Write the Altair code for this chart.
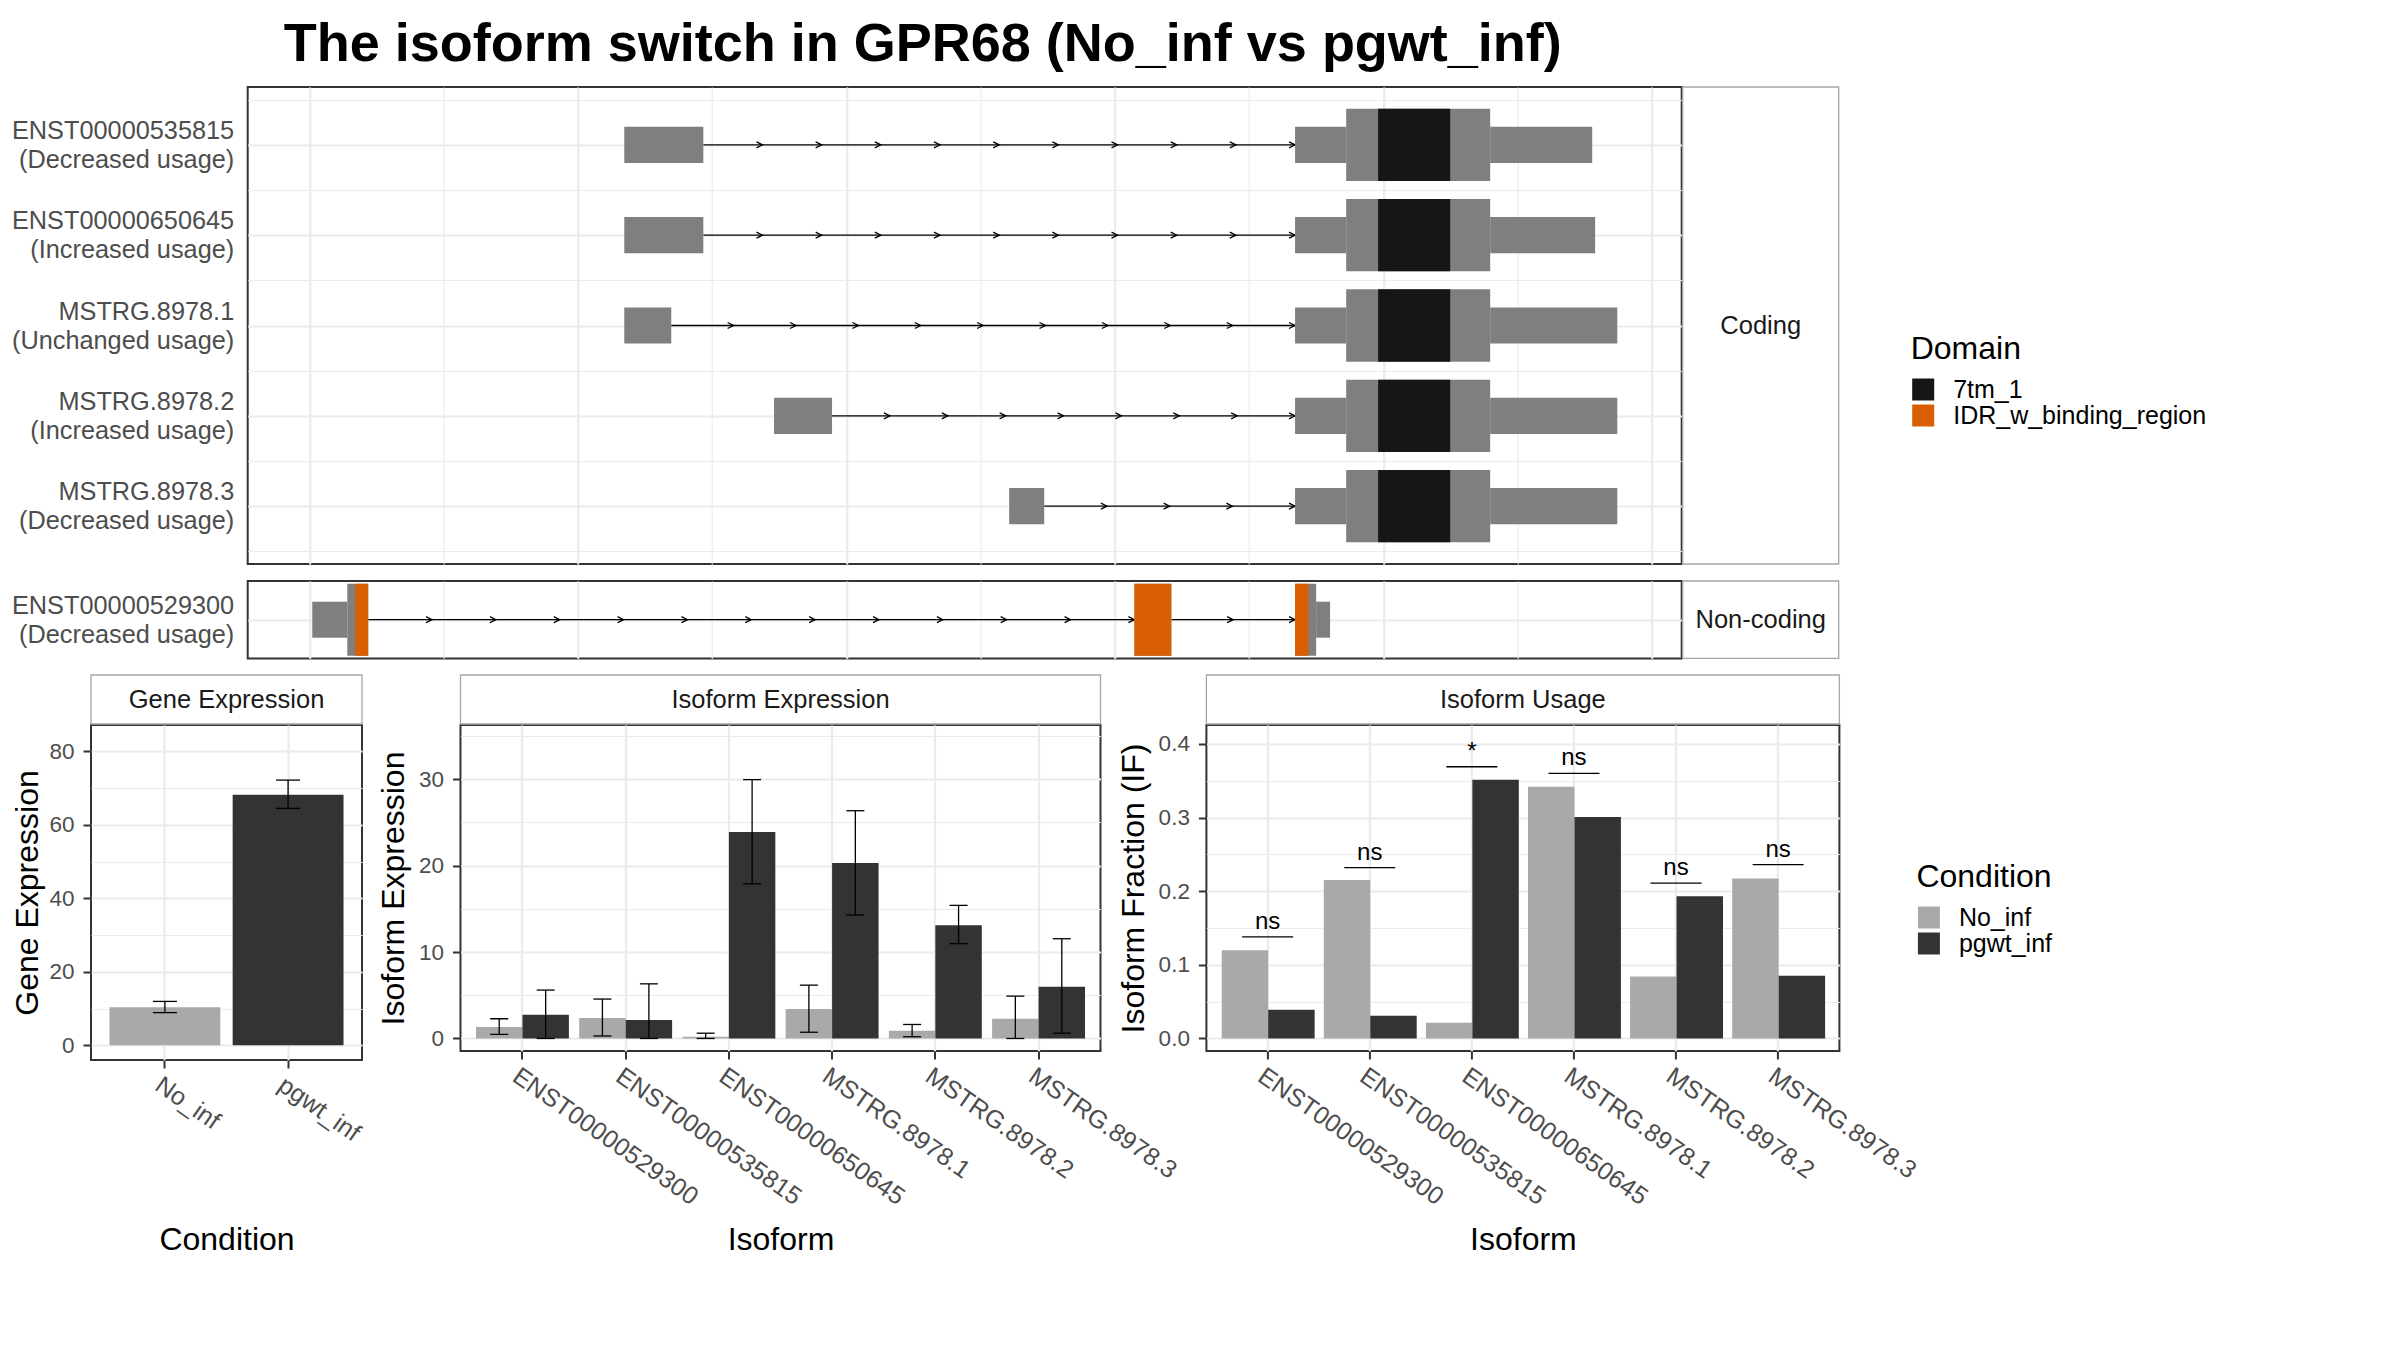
import json
import altair as alt
import pandas as pd

FONT = "Liberation Sans"
GRID = "#EBEBEB"
BORDER = "#333333"
STRIP_BORDER = "#A6A6A6"
TICK_LABEL = "#4D4D4D"
EXON_GRAY = "#7F7F7F"

# ---------------- transcript structures (rescaled genomic coordinate) ----------------
coding_tx = ["ENST00000535815", "ENST00000650645", "MSTRG.8978.1", "MSTRG.8978.2", "MSTRG.8978.3"]
coding_note = ["(Decreased usage)", "(Increased usage)", "(Unchanged usage)", "(Increased usage)", "(Decreased usage)"]

cod_row = [1, 1, 1, 1, 2, 2, 2, 2, 3, 3, 3, 3, 4, 4, 4, 4, 5, 5, 5, 5]
cod_start = [2.345, 7.343, 7.724, 8.797,
             2.345, 7.343, 7.724, 8.797,
             2.345, 7.343, 7.724, 8.797,
             3.461, 7.343, 7.724, 8.797,
             5.213, 7.343, 7.724, 8.797]
cod_end = [2.934, 7.724, 8.797, 9.557,
           2.934, 7.724, 8.797, 9.579,
           2.695, 7.724, 8.797, 9.744,
           3.893, 7.724, 8.797, 9.744,
           5.474, 7.724, 8.797, 9.744]
cod_kind = ["utr", "utr", "cds", "utr",
            "utr", "utr", "cds", "utr",
            "utr", "utr", "cds", "utr",
            "utr", "utr", "cds", "utr",
            "utr", "utr", "cds", "utr"]

cod_dom_row = [1, 2, 3, 4, 5]
cod_dom_start = [7.962, 7.962, 7.962, 7.962, 7.962]
cod_dom_end = [8.499, 8.499, 8.499, 8.499, 8.499]
cod_dom_name = ["7tm_1", "7tm_1", "7tm_1", "7tm_1", "7tm_1"]

cod_intron_row = [1, 2, 3, 4, 5]
cod_intron_start = [2.934, 2.934, 2.695, 3.893, 5.474]
cod_intron_end = [7.343, 7.343, 7.343, 7.343, 7.343]
cod_intron_arrows = [10, 10, 10, 8, 4]

nc_tx = ["ENST00000529300"]
nc_note = ["(Decreased usage)"]
nc_row = [1, 1, 1, 1, 1]
nc_start = [0.020, 0.281, 6.146, 7.343, 7.500]
nc_end = [0.281, 0.437, 6.421, 7.500, 7.604]
nc_kind = ["utr", "cds", "cds", "cds", "utr"]
nc_dom_row = [1, 1, 1]
nc_dom_start = [0.340, 6.146, 7.343]
nc_dom_end = [0.437, 6.421, 7.443]
nc_dom_name = ["IDR_w_binding_region", "IDR_w_binding_region", "IDR_w_binding_region"]
nc_intron_row = [1, 1]
nc_intron_start = [0.437, 6.421]
nc_intron_end = [6.146, 7.343]
nc_intron_arrows = [12, 2]

domain_names = ["7tm_1", "IDR_w_binding_region"]
domain_colors = ["#161616", "#D95F02"]

# ---------------- expression data ----------------
conditions = ["No_inf", "pgwt_inf"]
cond_colors = ["#A9A9A9", "#333333"]

gene_mean = [10.35, 68.2]
gene_lo = [8.9, 64.5]
gene_hi = [11.95, 72.2]

isoforms = ["ENST00000529300", "ENST00000535815", "ENST00000650645",
            "MSTRG.8978.1", "MSTRG.8978.2", "MSTRG.8978.3"]
iso_mean_no = [1.33, 2.37, 0.20, 3.41, 0.90, 2.28]
iso_lo_no = [0.47, 0.29, 0.0, 0.72, 0.20, 0.0]
iso_hi_no = [2.28, 4.56, 0.61, 6.17, 1.62, 4.90]
iso_mean_pg = [2.75, 2.14, 23.9, 20.3, 13.1, 5.98]
iso_lo_pg = [0.0, 0.0, 17.9, 14.29, 10.97, 0.61]
iso_hi_pg = [5.60, 6.32, 29.95, 26.35, 15.4, 11.54]

if_no = [0.1198, 0.2151, 0.0212, 0.342, 0.0842, 0.2172]
if_pg = [0.039, 0.0307, 0.3515, 0.3008, 0.1933, 0.0853]
sig_label = ["ns", "ns", "*", "ns", "ns", "ns"]
sig_y = [0.138, 0.232, 0.369, 0.360, 0.211, 0.236]

# ---------------- helpers ----------------
XDOM = [-0.461, 10.224]
ARROW = "M -2 -1 L 0 0 L -2 1"


def sx(field):
    return alt.X(f"{field}:Q",
                 scale=alt.Scale(domain=XDOM, nice=False, zero=False),
                 axis=alt.Axis(values=list(range(11)), labels=False, ticks=False, domain=False,
                               title=None, grid=True, gridColor=GRID,
                               gridWidth={"condition": {"test": "datum.value % 2 === 0", "value": 2.2},
                                          "value": 1.1}))


def make_sy(ydom, yvals, names, notes):
    lab = json.dumps([[n, u] for n, u in zip(names, notes)])

    def sy(field):
        return alt.Y(f"{field}:Q",
                     scale=alt.Scale(domain=ydom, nice=False, zero=False, reverse=True),
                     axis=alt.Axis(values=yvals,
                                   labelExpr=f"datum.value % 1 === 0 ? {lab}[datum.value - 1] : ''",
                                   ticks=False, domain=False, title=None,
                                   labelFontSize=25.3, labelColor=TICK_LABEL, labelPadding=14,
                                   labelLineHeight=29, labelLimit=400, labelAlign="right",
                                   labelBaseline="middle", labelOffset=-14.5, labelOverlap=False,
                                   minExtent=238,
                                   grid=True, gridColor=GRID,
                                   gridWidth={"condition": {"test": "datum.value % 1 === 0", "value": 2.2},
                                              "value": 1.1}))
    return sy


def structure_panel(W, H, ydom, yvals, names, notes, seg_df, dom_df, intr_df, strip_text, legend):
    sy = make_sy(ydom, yvals, names, notes)
    introns = alt.Chart(intr_df).mark_rule(color="black", strokeWidth=1.3).encode(
        x=sx("start"), x2="end:Q", y=sy("row"))
    arrows = (alt.Chart(intr_df)
              .transform_calculate(k="sequence(1, datum.n + 1)")
              .transform_flatten(["k"])
              .transform_calculate(ax="datum.start + (datum.end - datum.start) * datum.k / datum.n")
              .mark_point(shape=ARROW, size=36, filled=False, color="black", strokeWidth=1.3, opacity=1)
              .encode(x=sx("ax"), y=sy("row")))
    exons = (alt.Chart(seg_df)
             .transform_calculate(y0="datum.row - (datum.kind === 'cds' ? 0.4 : 0.2)",
                                  y1="datum.row + (datum.kind === 'cds' ? 0.4 : 0.2)")
             .mark_rect(color=EXON_GRAY)
             .encode(x=sx("start"), x2="end:Q", y=sy("y0"), y2="y1:Q"))
    doms = (alt.Chart(dom_df)
            .transform_calculate(y0="datum.row - 0.4", y1="datum.row + 0.4")
            .mark_rect()
            .encode(x=sx("start"), x2="end:Q", y=sy("y0"), y2="y1:Q",
                    color=alt.Color("Domain:N",
                                    scale=alt.Scale(domain=domain_names, range=domain_colors),
                                    legend=legend)))
    strip_df = pd.DataFrame({"label": [strip_text]})
    strip_box = alt.Chart(strip_df).mark_rect(fill="white", stroke=STRIP_BORDER, strokeWidth=1.3).encode(
        x=alt.value(W + 1), x2=alt.value(W + 157), y=alt.value(0), y2=alt.value(H))
    strip_txt = alt.Chart(strip_df).mark_text(fontSize=25.5, color="#1A1A1A").encode(
        x=alt.value(W + 79), y=alt.value(H / 2), text="label:N")
    return alt.layer(introns, arrows, exons, doms, strip_box, strip_txt).properties(width=W, height=H)


cod_seg = pd.DataFrame({"row": cod_row, "start": cod_start, "end": cod_end, "kind": cod_kind})
cod_dom = pd.DataFrame({"row": cod_dom_row, "start": cod_dom_start, "end": cod_dom_end, "Domain": cod_dom_name})
cod_intr = pd.DataFrame({"row": cod_intron_row, "start": cod_intron_start, "end": cod_intron_end,
                         "n": cod_intron_arrows})
nc_seg = pd.DataFrame({"row": nc_row, "start": nc_start, "end": nc_end, "kind": nc_kind})
nc_dom = pd.DataFrame({"row": nc_dom_row, "start": nc_dom_start, "end": nc_dom_end, "Domain": nc_dom_name})
nc_intr = pd.DataFrame({"row": nc_intron_row, "start": nc_intron_start, "end": nc_intron_end,
                        "n": nc_intron_arrows})

domain_legend = alt.Legend(orient="none", legendX=1663, legendY=247, title="Domain",
                           titleFontSize=32, titleFontWeight="normal", titleColor="black",
                           labelFontSize=25, labelColor="black", labelLimit=500, symbolType="square",
                           symbolSize=484, symbolStrokeWidth=0, rowPadding=0, labelOffset=17.5,
                           titlePadding=11, padding=0)

coding = structure_panel(1434, 477, [0.36, 5.64], [0.5, 1, 1.5, 2, 2.5, 3, 3.5, 4, 4.5, 5, 5.5],
                         coding_tx, coding_note, cod_seg, cod_dom, cod_intr, "Coding", domain_legend)
noncoding = structure_panel(1434, 77.4, [0.57, 1.43], [1], nc_tx, nc_note,
                            nc_seg, nc_dom, nc_intr, "Non-coding", None)

top_block = alt.vconcat(coding, noncoding, spacing=17, bounds="flush").resolve_scale(color="independent")

# invisible spacer that lets the structure panels start further right than the expression panels
spacer = (alt.Chart(pd.DataFrame({"a": [0]}))
          .mark_point(opacity=0)
          .encode(x=alt.value(0), y=alt.value(0))
          .properties(width=1, height=1, view=alt.ViewBackground(strokeOpacity=0, fillOpacity=0)))
top_row = alt.hconcat(spacer, top_block, spacing=155.7, bounds="flush")


# ---------------- bottom panels ----------------
def bx(field, title, sort, extent):
    return alt.X(f"{field}:N", sort=sort, title=title,
                 scale=alt.Scale(paddingInner=0.1, paddingOuter=0.15),
                 axis=alt.Axis(labelAngle=35, labelAlign="left", labelBaseline="top", labelFontSize=25,
                               labelColor=TICK_LABEL, labelLimit=400, labelOverlap=False, labelPadding=4,
                               tickSize=8, tickWidth=2, tickColor=BORDER, domain=False, grid=True,
                               gridColor=GRID, gridWidth=2.2, bandPosition=0.5, titleFontSize=32,
                               titleFontWeight="normal", titleColor="black", titlePadding=10,
                               minExtent=extent, maxExtent=extent))


def by(field, dom, vals, major, title, fmt=None, tpad=8):
    kw = dict(values=vals, title=title, labelExpr=f"({major}) ? datum.label : ''",
              tickOpacity={"condition": {"test": major, "value": 1}, "value": 0},
              gridWidth={"condition": {"test": major, "value": 2.2}, "value": 1.1},
              gridColor=GRID, tickSize=8, tickWidth=2, tickColor=BORDER, domain=False,
              labelFontSize=22.5, labelColor=TICK_LABEL, labelPadding=9, labelOverlap=False,
              titleFontSize=32, titleFontWeight="normal", titleColor="black", titlePadding=tpad)
    if fmt:
        kw["format"] = fmt
    return alt.Y(f"{field}:Q", scale=alt.Scale(domain=dom, nice=False, zero=False), axis=alt.Axis(**kw))


def strip_layers(W, text):
    df = pd.DataFrame({"label": [text]})
    box = alt.Chart(df).mark_rect(fill="white", stroke=STRIP_BORDER, strokeWidth=1.3).encode(
        x=alt.value(0), x2=alt.value(W), y=alt.value(-50), y2=alt.value(-1))
    txt = alt.Chart(df).mark_text(fontSize=25.5, color="#1A1A1A").encode(
        x=alt.value(W / 2), y=alt.value(-25.5), text="label:N")
    return [box, txt]


cond_scale = alt.Scale(domain=conditions, range=cond_colors)

# Gene expression
gene_df = pd.DataFrame({"Condition": conditions, "mean": gene_mean, "lo": gene_lo, "hi": gene_hi})
GW, GH = 271, 335
gdom = [-4.0, 87.2]
gvals = [0, 10, 20, 30, 40, 50, 60, 70, 80]
gmaj = "datum.value % 20 === 0"


def GX():
    return bx("Condition", "Condition", conditions, 154)


def GY(f):
    return by(f, gdom, gvals, gmaj, "Gene Expression", tpad=4)


g_bars = alt.Chart(gene_df).mark_bar().encode(
    x=GX(), y=GY("mean"), y2=alt.datum(0),
    color=alt.Color("Condition:N", scale=cond_scale, legend=None))
g_err = alt.Chart(gene_df).mark_rule(color="black", strokeWidth=1.3).encode(x=GX(), y=GY("lo"), y2="hi:Q")
g_cap1 = alt.Chart(gene_df).mark_tick(color="black", thickness=1.3, size=24, orient="horizontal",
                                      opacity=1).encode(x=GX(), y=GY("lo"))
g_cap2 = alt.Chart(gene_df).mark_tick(color="black", thickness=1.3, size=24, orient="horizontal",
                                      opacity=1).encode(x=GX(), y=GY("hi"))
gene_chart = alt.layer(g_bars, g_err, g_cap1, g_cap2, *strip_layers(GW, "Gene Expression")).properties(
    width=GW, height=GH)

# Isoform expression
iso_df = pd.DataFrame({
    "Isoform": isoforms + isoforms,
    "Condition": ["No_inf"] * 6 + ["pgwt_inf"] * 6,
    "mean": iso_mean_no + iso_mean_pg,
    "lo": iso_lo_no + iso_lo_pg,
    "hi": iso_hi_no + iso_hi_pg,
})
IW, IH = 640, 326
idom = [-1.45, 36.27]
ivals = [0, 5, 10, 15, 20, 25, 30, 35]
imaj = "datum.value % 10 === 0"


def IX():
    return bx("Isoform", "Isoform", isoforms, 163)


def IY(f):
    return by(f, idom, ivals, imaj, "Isoform Expression")


def OFF():
    return alt.XOffset("Condition:N", sort=conditions, scale=alt.Scale(paddingInner=0, paddingOuter=0))


i_bars = alt.Chart(iso_df).mark_bar().encode(
    x=IX(), xOffset=OFF(), y=IY("mean"), y2=alt.datum(0),
    color=alt.Color("Condition:N", scale=cond_scale, legend=None))
i_err = alt.Chart(iso_df).mark_rule(color="black", strokeWidth=1.3).encode(
    x=IX(), xOffset=OFF(), y=IY("lo"), y2="hi:Q")
i_cap1 = alt.Chart(iso_df).mark_tick(color="black", thickness=1.3, size=18, orient="horizontal",
                                     opacity=1).encode(x=IX(), xOffset=OFF(), y=IY("lo"))
i_cap2 = alt.Chart(iso_df).mark_tick(color="black", thickness=1.3, size=18, orient="horizontal",
                                     opacity=1).encode(x=IX(), xOffset=OFF(), y=IY("hi"))
iso_chart = alt.layer(i_bars, i_err, i_cap1, i_cap2, *strip_layers(IW, "Isoform Expression")).properties(
    width=IW, height=IH)

# Isoform usage
use_df = pd.DataFrame({
    "Isoform": isoforms + isoforms,
    "Condition": ["No_inf"] * 6 + ["pgwt_inf"] * 6,
    "IF": if_no + if_pg,
})
sig_df = pd.DataFrame({"Isoform": isoforms, "sig_y": sig_y, "label": sig_label})
UW, UH = 633, 326
udom = [-0.017, 0.4257]
uvals = [0, 0.05, 0.1, 0.15, 0.2, 0.25, 0.3, 0.35, 0.4]
umaj = "abs(datum.value * 10 - round(datum.value * 10)) < 0.000001"


def UX():
    return bx("Isoform", "Isoform", isoforms, 163)


def UY(f):
    return by(f, udom, uvals, umaj, "Isoform Fraction (IF)", ".1f")


cond_legend = alt.Legend(orient="none", legendX=710, legendY=137, title="Condition",
                         titleFontSize=32, titleFontWeight="normal", titleColor="black",
                         labelFontSize=25, labelColor="black", labelLimit=500, symbolType="square",
                         symbolSize=484, symbolStrokeWidth=0, rowPadding=0, labelOffset=17.5,
                         titlePadding=11, padding=0)

u_bars = alt.Chart(use_df).mark_bar().encode(
    x=UX(), xOffset=OFF(), y=UY("IF"), y2=alt.datum(0),
    color=alt.Color("Condition:N", scale=cond_scale, legend=cond_legend))
u_line = alt.Chart(sig_df).mark_tick(color="black", thickness=1.3, size=51, orient="horizontal",
                                     opacity=1).encode(x=UX(), y=UY("sig_y"))
u_text = alt.Chart(sig_df).mark_text(baseline="bottom", dy=-3, fontSize=24, color="black").encode(
    x=UX(), y=UY("sig_y"), text="label:N")
usage_chart = alt.layer(u_bars, u_line, u_text, *strip_layers(UW, "Isoform Usage")).properties(
    width=UW, height=UH)

right_pair = alt.hconcat(iso_chart, usage_chart, spacing=105.9,
                         bounds="flush").resolve_scale(color="independent")
bottom_row = alt.hconcat(gene_chart, right_pair, spacing=98.5,
                         bounds="flush").resolve_scale(color="independent")

chart = (alt.concat(top_row, bottom_row, columns=1, spacing=12, align="none")
         .resolve_scale(color="independent")
         .properties(
             title=alt.TitleParams("The isoform switch in GPR68 (No_inf vs pgwt_inf)", fontSize=54,
                                   fontWeight="bold", color="black", anchor="start", dx=275, offset=0,
                                   font=FONT),
             padding={"left": 0, "top": 10, "right": 0, "bottom": 0},
             background="white")
         .configure(font=FONT)
         .configure_view(stroke=BORDER, strokeWidth=2))

chart.save("out.html", embed_options={"renderer": "svg", "actions": False})
